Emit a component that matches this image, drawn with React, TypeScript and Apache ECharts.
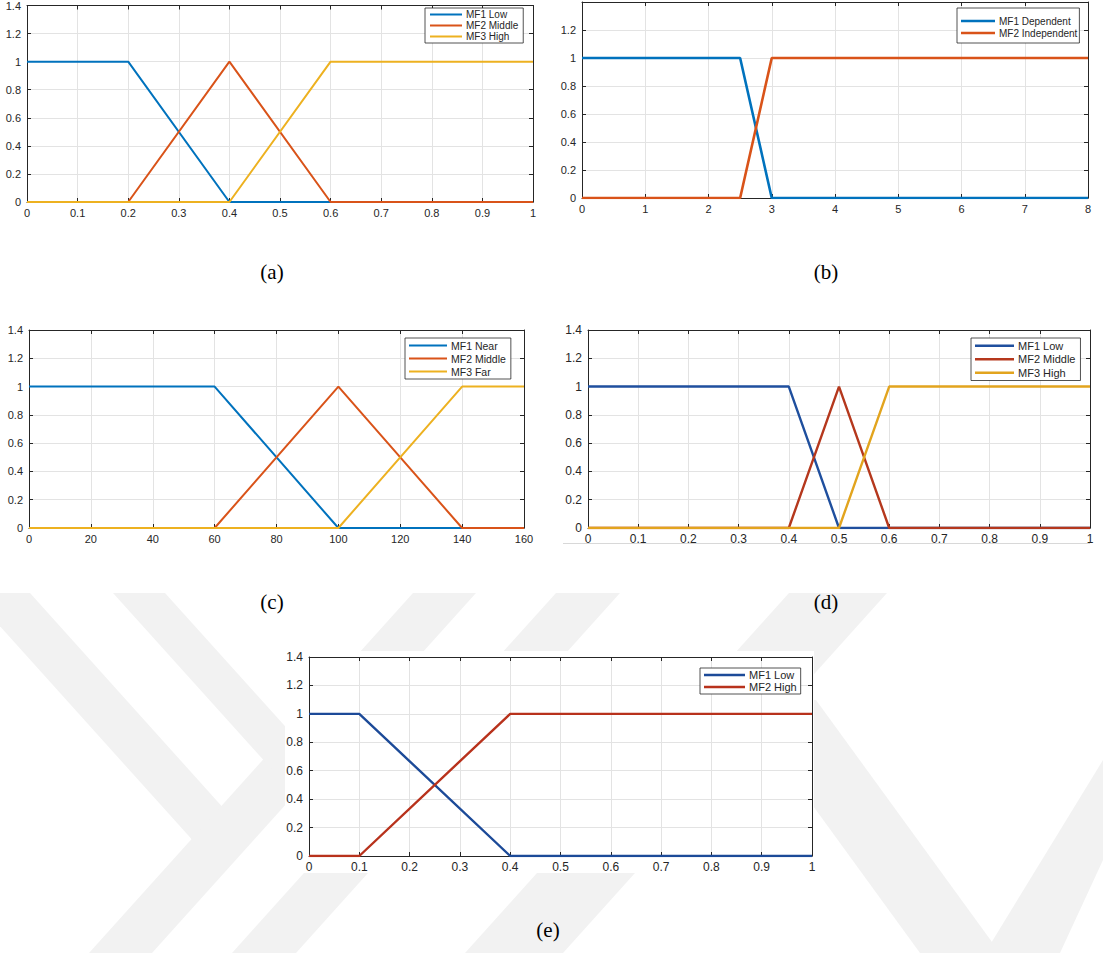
import React, { useEffect, useRef } from "react";
import * as echarts from "echarts";

// ---------- data ----------
const A_X = [0, 0.2, 0.4, 0.6, 1];
const A_LOW = [1, 1, 0, 0, 0];
const A_MIDDLE = [0, 0, 1, 0, 0];
const A_HIGH = [0, 0, 0, 1, 1];

const B_X = [0, 2.5, 3, 8];
const B_DEPENDENT = [1, 1, 0, 0];
const B_INDEPENDENT = [0, 0, 1, 1];

const C_X = [0, 60, 100, 140, 160];
const C_NEAR = [1, 1, 0, 0, 0];
const C_MIDDLE = [0, 0, 1, 0, 0];
const C_FAR = [0, 0, 0, 1, 1];

const D_X = [0, 0.4, 0.5, 0.6, 1];
const D_LOW = [1, 1, 0, 0, 0];
const D_MIDDLE = [0, 0, 1, 0, 0];
const D_HIGH = [0, 0, 0, 1, 1];

const E_X = [0, 0.1, 0.4, 1];
const E_LOW = [1, 1, 0, 0];
const E_HIGH = [0, 0, 1, 1];

// x axis: [min, max, interval]
const X_RANGES = [
  [0, 1, 0.1],
  [0, 8, 1],
  [0, 160, 20],
  [0, 1, 0.1],
  [0, 1, 0.1],
];
const Y_RANGE = [0, 1.4, 0.2];
const CAPTIONS = ["(a)", "(b)", "(c)", "(d)", "(e)"];

// ---------- styles / layout ----------
const FONT = "'Liberation Sans', Arial, Helvetica, sans-serif";
const INK = "#262626";
const GRIDLINE = "#e3e3e3";

const PANELS = [
  {
    grid: { left: 27, top: 1, width: 506, height: 201 },
    x: A_X,
    series: [
      { name: "MF1 Low", y: A_LOW, color: "#0072BD" },
      { name: "MF2 Middle", y: A_MIDDLE, color: "#D95319" },
      { name: "MF3 High", y: A_HIGH, color: "#EDB120" },
    ],
    lineWidth: 2,
    tickFont: 11,
    hideMaxY: false,
    legend: { left: 425, top: 8, pad: [1, 5, 1, 5], row: 11, font: 10, iw: 32 },
    caption: [272, 272],
  },
  {
    grid: { left: 582, top: 2, width: 506, height: 196 },
    x: B_X,
    series: [
      { name: "MF1 Dependent", y: B_DEPENDENT, color: "#0072BD" },
      { name: "MF2 Independent", y: B_INDEPENDENT, color: "#D95319" },
    ],
    lineWidth: 2.6,
    tickFont: 11,
    hideMaxY: true,
    legend: { left: 957, top: 8, pad: [7, 2, 4, 4], row: 12, font: 10, iw: 34 },
    caption: [826, 272],
  },
  {
    grid: { left: 29, top: 330, width: 495, height: 198 },
    x: C_X,
    series: [
      { name: "MF1 Near", y: C_NEAR, color: "#0072BD" },
      { name: "MF2 Middle", y: C_MIDDLE, color: "#D95319" },
      { name: "MF3 Far", y: C_FAR, color: "#EDB120" },
    ],
    lineWidth: 2,
    tickFont: 11,
    hideMaxY: false,
    legend: { left: 405, top: 338, pad: [1, 5, 1, 4], row: 13, font: 10.5, iw: 38 },
    caption: [272, 602],
  },
  {
    grid: { left: 588, top: 330, width: 502, height: 198 },
    x: D_X,
    series: [
      { name: "MF1 Low", y: D_LOW, color: "#1f4f9e" },
      { name: "MF2 Middle", y: D_MIDDLE, color: "#b5381d" },
      { name: "MF3 High", y: D_HIGH, color: "#e2a41e" },
    ],
    lineWidth: 2.4,
    tickFont: 12,
    hideMaxY: false,
    legend: { left: 971, top: 338, pad: [1, 5, 1, 4], row: 13.5, font: 11, iw: 39 },
    caption: [826, 602],
  },
  {
    grid: { left: 309, top: 657, width: 503, height: 199 },
    x: E_X,
    series: [
      { name: "MF1 Low", y: E_LOW, color: "#1c4a98" },
      { name: "MF2 High", y: E_HIGH, color: "#b8321c" },
    ],
    lineWidth: 2.4,
    tickFont: 12,
    hideMaxY: false,
    legend: { left: 700, top: 668, pad: [1, 4, 1, 4], row: 12, font: 11, iw: 41 },
    caption: [548, 930],
  },
];

// faint background watermark stripes
const WATERMARK = [
  [[-30, 593], [30, 593], [253, 841], [191.5, 839]],
  [[413, 593], [476, 593], [152, 953], [89, 953]],
  [[113, 593], [165, 593], [393, 846], [341, 846]],
  [[556, 593], [620, 593], [296, 953], [232, 953]],
  [[789, 593], [887, 593], [563, 953], [465, 953]],
  [[736, 700], [816, 700], [1000, 953], [920, 953]],
  [[1103, 760], [1103, 860], [1060, 953], [985, 953]],
];

function buildOption() {
  const grid: any[] = [];
  const xAxis: any[] = [];
  const yAxis: any[] = [];
  const series: any[] = [];
  const legend: any[] = [];
  const graphic: any[] = [];

  WATERMARK.forEach((pts) => {
    graphic.push({
      type: "polygon",
      z: -20,
      shape: { points: pts },
      style: { fill: "#f2f2f2" },
      silent: true,
    });
  });
  // white figure background behind panel (e)
  graphic.push({
    type: "rect",
    z: -10,
    shape: { x: 285, y: 651, width: 529, height: 222 },
    style: { fill: "#ffffff" },
    silent: true,
  });
  // faint frame line under panel (d)
  graphic.push({
    type: "line",
    z: -5,
    shape: { x1: 563, y1: 543.5, x2: 1090, y2: 543.5 },
    style: { stroke: "#d8d8d8", lineWidth: 1 },
    silent: true,
  });

  PANELS.forEach((p, i) => {
    grid.push({ ...p.grid, containLabel: false, show: false });
    const [xmin, xmax, xint] = X_RANGES[i];
    const axisLine = { show: true, onZero: false, lineStyle: { color: INK, width: 1 } };
    const axisTick = { show: true, inside: true, length: 4, lineStyle: { color: INK, width: 1 } };
    xAxis.push({
      gridIndex: i,
      type: "value",
      position: "bottom",
      min: xmin,
      max: xmax,
      interval: xint,
      axisLine,
      axisTick,
      axisLabel: { color: INK, fontSize: p.tickFont, fontFamily: FONT, margin: 5 },
      splitLine: { show: true, lineStyle: { color: GRIDLINE, width: 1 } },
    });
    xAxis.push({
      gridIndex: i,
      type: "value",
      position: "top",
      min: xmin,
      max: xmax,
      interval: xint,
      axisLine,
      axisTick,
      axisLabel: { show: false },
      splitLine: { show: false },
    });
    yAxis.push({
      gridIndex: i,
      type: "value",
      position: "left",
      min: Y_RANGE[0],
      max: Y_RANGE[1],
      interval: Y_RANGE[2],
      axisLine,
      axisTick,
      axisLabel: {
        color: INK,
        fontSize: p.tickFont,
        fontFamily: FONT,
        margin: 6,
        showMaxLabel: !p.hideMaxY,
      },
      splitLine: { show: true, lineStyle: { color: GRIDLINE, width: 1 } },
    });
    yAxis.push({
      gridIndex: i,
      type: "value",
      position: "right",
      min: Y_RANGE[0],
      max: Y_RANGE[1],
      interval: Y_RANGE[2],
      axisLine,
      axisTick,
      axisLabel: { show: false },
      splitLine: { show: false },
    });

    p.series.forEach((s) => {
      series.push({
        type: "line",
        name: s.name,
        xAxisIndex: 2 * i,
        yAxisIndex: 2 * i,
        data: p.x.map((xv, k) => [xv, s.y[k]]),
        symbol: "none",
        showSymbol: false,
        color: s.color,
        lineStyle: { color: s.color, width: p.lineWidth },
        z: 3,
        silent: true,
      });
    });

    const L = p.legend;
    legend.push({
      orient: "vertical",
      left: L.left,
      top: L.top,
      padding: L.pad,
      itemGap: 0,
      itemWidth: L.iw,
      itemHeight: p.lineWidth,
      icon: "rect",
      selectedMode: false,
      backgroundColor: "#ffffff",
      borderColor: INK,
      borderWidth: 0.8,
      borderRadius: 0,
      textStyle: {
        color: INK,
        fontSize: L.font,
        fontFamily: FONT,
        lineHeight: L.row,
        padding: [0, 0, 0, -1],
      },
      data: p.series.map((s) => ({
        name: s.name,
        itemStyle: { color: s.color, borderWidth: 0 },
        lineStyle: { color: s.color },
      })),
      z: 10,
    });

    graphic.push({
      type: "text",
      x: p.caption[0],
      y: p.caption[1],
      z: 10,
      style: {
        text: CAPTIONS[i],
        fill: "#000000",
        font: "21px 'Liberation Serif', 'Times New Roman', serif",
        textAlign: "center",
        textVerticalAlign: "middle",
      },
    });
  });

  return {
    animation: false,
    backgroundColor: "#ffffff",
    grid,
    xAxis,
    yAxis,
    series,
    legend,
    graphic: { elements: graphic },
  };
}

export default function App() {
  const ref = useRef<HTMLDivElement>(null);
  useEffect(() => {
    if (!ref.current) return;
    const chart = echarts.init(ref.current, undefined, { renderer: "svg" });
    chart.setOption(buildOption() as any);
    return () => chart.dispose();
  }, []);
  return (
    <div
      ref={ref}
      style={{ position: "absolute", left: 0, top: 0, width: 1103, height: 953 }}
    />
  );
}
